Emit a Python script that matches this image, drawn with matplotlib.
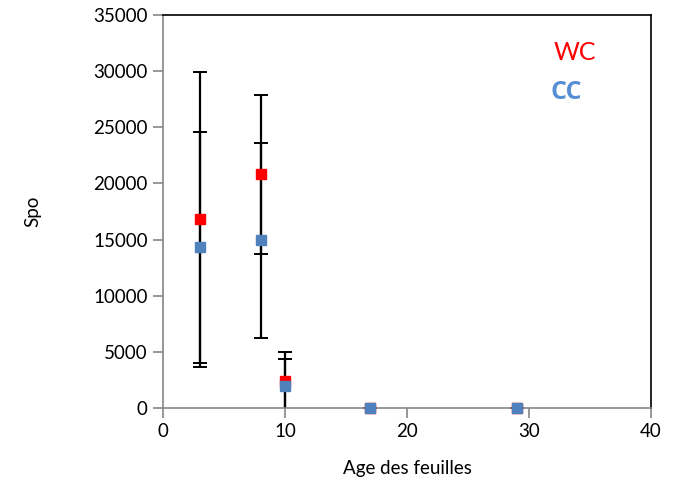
import numpy as np
import matplotlib.pyplot as plt

plt.rcParams['font.family'] = ['Lato', 'DejaVu Sans']

# leaf age (days) and spore counts
age = [3, 8, 10, 17, 29]
wc_spo = [16800, 20830, 2430, 0, 0]
wc_err = [13150, 7080, 2600, 0, 0]
cc_spo = [14300, 14950, 1990, 0, 0]
cc_err = [10250, 8690, 2400, 0, 0]

fig = plt.figure(figsize=(6.8, 4.86), dpi=100)
ax = fig.add_axes([0.2397, 0.1605, 0.7176, 0.8085])

ax.errorbar(age, wc_spo, yerr=wc_err, fmt='none', ecolor='black',
            elinewidth=1.6, capsize=5, capthick=1.4, zorder=2)
ax.errorbar(age, cc_spo, yerr=cc_err, fmt='none', ecolor='black',
            elinewidth=1.6, capsize=5, capthick=1.4, zorder=2)
ax.plot(age, wc_spo, 's', color='#FF0000', markersize=7.5, zorder=3,
        clip_on=False)
ax.plot(age, cc_spo, 's', color='#4F81BD', markersize=7.5, zorder=4,
        clip_on=False)

ax.set_xlim(0, 40)
ax.set_ylim(0, 35000)
ax.set_xticks(np.arange(0, 41, 10))
ax.set_yticks(np.arange(0, 35001, 5000))

for s in ['left', 'bottom']:
    ax.spines[s].set_color('#868686')
    ax.spines[s].set_linewidth(1.2)
for s in ['top', 'right']:
    ax.spines[s].set_color('black')
    ax.spines[s].set_linewidth(1.2)
ax.tick_params(direction='out', length=7, width=1.2, color='#868686',
               labelsize=13.5, pad=4)

ax.set_xlabel('Age des feuilles', fontsize=13.5, labelpad=14)
ax.set_ylabel('Spo', fontsize=13.5, labelpad=37)

ax.text(0.80, 0.906, 'WC', transform=ax.transAxes, color='#FF0000',
        fontsize=18, ha='left', va='center')
ax.text(0.795, 0.803, 'CC', transform=ax.transAxes, color='#558ED5',
        fontsize=18, fontweight='bold', family=['Open Sans', 'DejaVu Sans'],
        ha='left', va='center')

fig.savefig('out.png', dpi=100)
